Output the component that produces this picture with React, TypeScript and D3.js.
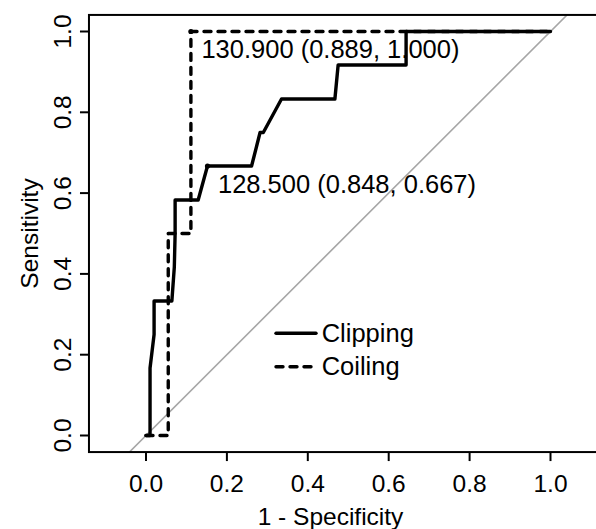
import React from "react";
import * as d3 from "d3";

// ROC curves, 1 - specificity vs sensitivity
const clippingFpr = [0, 0.01, 0.01, 0.02, 0.02, 0.064, 0.07, 0.072, 0.072, 0.129, 0.152, 0.261, 0.282, 0.29, 0.335, 0.467, 0.475, 0.643, 0.643, 1];
const clippingTpr = [0, 0, 0.167, 0.25, 0.333, 0.333, 0.417, 0.5, 0.583, 0.583, 0.667, 0.667, 0.75, 0.75, 0.833, 0.833, 0.917, 0.917, 1, 1];

const coilingFpr = [0, 0.055, 0.055, 0.111, 0.111, 1];
const coilingTpr = [0, 0, 0.5, 0.5, 1, 1];

const thresholdFpr = [0.152, 0.111];
const thresholdTpr = [0.667, 1.0];
const thresholdLabels = ["128.500 (0.848, 0.667)", "130.900 (0.889, 1.000)"];

const seriesNames = ["Clipping", "Coiling"];
const xTicks = [0, 0.2, 0.4, 0.6, 0.8, 1.0];
const yTicks = [0, 0.2, 0.4, 0.6, 0.8, 1.0];

const W = 596;
const H = 529;
const FONT = "'Liberation Sans', Arial, Helvetica, sans-serif";
const FS = 24.5;
const FS_NOTE = 25.5;

export default function App() {
  const x = d3.scaleLinear().domain([0, 1]).range([146, 550.5]);
  const y = d3.scaleLinear().domain([0, 1]).range([435.5, 31.5]);

  // plot region (R style 4% padding, equal aspect)
  const xMin = -0.141, xMax = 1.141;
  const yMin = -0.041, yMax = 1.041;
  const left = x(xMin), right = x(xMax), top = y(yMax), bottom = y(yMin);

  const line = d3
    .line<[number, number]>()
    .x((d) => x(d[0]))
    .y((d) => y(d[1]));

  const clipPts = clippingFpr.map((v, i) => [v, clippingTpr[i]] as [number, number]);
  const coilPts = coilingFpr.map((v, i) => [v, coilingTpr[i]] as [number, number]);

  const dash = "7 7";

  return (
    <svg
      width={W}
      height={H}
      style={{ position: "fixed", left: 0, top: 0, background: "#fff" }}
      fontFamily={FONT}
    >
      <defs>
        <clipPath id="plotArea">
          <rect x={left} y={top} width={right - left} height={bottom - top} />
        </clipPath>
      </defs>

      <g clipPath="url(#plotArea)">
        {/* reference diagonal */}
        <line
          x1={x(yMin)}
          y1={y(yMin)}
          x2={x(yMax)}
          y2={y(yMax)}
          stroke="#a6a6a6"
          strokeWidth={1.6}
        />
        <path
          d={line(coilPts) || ""}
          fill="none"
          stroke="#000"
          strokeWidth={3.4}
          strokeDasharray={dash}
          strokeLinecap="round"
          strokeLinejoin="round"
        />
        <path
          d={line(clipPts) || ""}
          fill="none"
          stroke="#000"
          strokeWidth={3.4}
          strokeLinecap="round"
          strokeLinejoin="round"
        />
        {thresholdFpr.map((v, i) => (
          <circle key={i} cx={x(v)} cy={y(thresholdTpr[i])} r={2.6} fill="#000" />
        ))}
      </g>

      {thresholdLabels.map((t, i) => (
        <text
          key={t}
          x={x(thresholdFpr[i]) + 10.5}
          y={y(thresholdTpr[i]) + 26.5}
          fontSize={FS_NOTE}
          fill="#000"
        >
          {t}
        </text>
      ))}

      {/* box */}
      <rect
        x={left}
        y={top}
        width={right - left}
        height={bottom - top}
        fill="none"
        stroke="#000"
        strokeWidth={2}
      />

      {/* x axis */}
      {xTicks.map((t) => (
        <g key={"x" + t}>
          <line x1={x(t)} x2={x(t)} y1={bottom} y2={bottom + 9} stroke="#000" strokeWidth={2} />
          <text x={x(t)} y={491.5} textAnchor="middle" fontSize={FS}>
            {d3.format(".1f")(t)}
          </text>
        </g>
      ))}
      <text x={330.5} y={525} textAnchor="middle" fontSize={FS}>
        1 - Specificity
      </text>

      {/* y axis */}
      {yTicks.map((t) => (
        <g key={"y" + t}>
          <line x1={left - 9} x2={left} y1={y(t)} y2={y(t)} stroke="#000" strokeWidth={2} />
          <text
            transform={`translate(71,${y(t)}) rotate(-90)`}
            textAnchor="middle"
            fontSize={FS}
          >
            {d3.format(".1f")(t)}
          </text>
        </g>
      ))}
      <text
        transform={`translate(38,${(top + bottom) / 2}) rotate(-90)`}
        textAnchor="middle"
        fontSize={FS}
      >
        Sensitivity
      </text>

      {/* legend */}
      {seriesNames.map((name, i) => (
        <g key={name}>
          <line
            x1={276}
            x2={316}
            y1={333.3 + i * 33.4}
            y2={333.3 + i * 33.4}
            stroke="#000"
            strokeWidth={3.4}
            strokeLinecap="round"
            strokeDasharray={i === 1 ? dash : undefined}
          />
          <text x={321.7} y={341.5 + i * 33.4} fontSize={FS_NOTE}>
            {name}
          </text>
        </g>
      ))}
    </svg>
  );
}
